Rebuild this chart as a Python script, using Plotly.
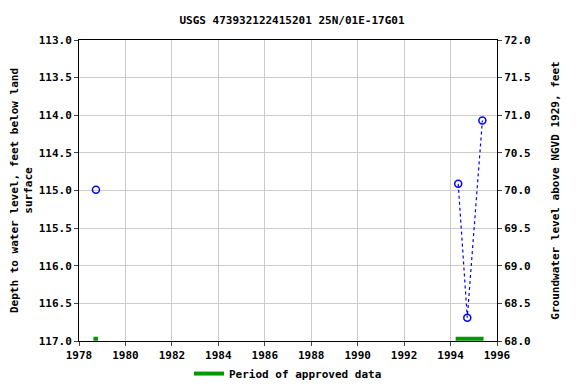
import plotly.graph_objects as go

title = "USGS 473932122415201 25N/01E-17G01"
# isolated measurement
iso_year = [1978.73]
iso_depth = [114.99]
# connected measurements
yrs = [1994.33, 1994.72, 1995.37]
depth = [114.91, 116.69, 114.07]
# approved periods
approved = [(1978.62, 1978.82), (1994.22, 1995.42)]
datum = 185.0

font = "DejaVu Sans Mono"
bf = dict(family=font, size=11, color="black", weight="bold")
mk = dict(symbol="circle-open", size=7, color="#0000ff", line=dict(width=1.5))
fig = go.Figure()
fig.add_trace(go.Scatter(x=yrs, y=depth, mode="lines+markers",
                         line=dict(color="#0000ff", dash="dot", width=1.2),
                         marker=mk, showlegend=False))
fig.add_trace(go.Scatter(x=iso_year, y=iso_depth, mode="markers", marker=mk, showlegend=False))
for i, (a, b) in enumerate(approved):
    fig.add_trace(go.Scatter(x=[a, b], y=[116.97, 116.97], mode="lines",
                             line=dict(color="#009900", width=4),
                             name="Period of approved data", showlegend=(i == 0)))
# invisible trace for right axis
fig.add_trace(go.Scatter(x=iso_year, y=[datum - iso_depth[0]], yaxis="y2", mode="markers",
                         marker=dict(opacity=0), showlegend=False, hoverinfo="skip"))

fig.update_layout(
    width=568, height=376,
    margin=dict(l=71, r=79, t=32, b=43, autoexpand=False),
    paper_bgcolor="white", plot_bgcolor="white",
    font=bf,
    title=dict(text=title, x=0.5, xanchor="center", y=0.968, yanchor="middle", font=bf),
    xaxis=dict(range=[1978, 1996], tick0=1978, dtick=2, showgrid=True, gridcolor="#cccccc",
               showline=True, linecolor="black", mirror=True, ticks="outside", ticklen=4,
               tickfont=bf, tickformat="d", zeroline=False, automargin=False),
    yaxis=dict(range=[117, 113], dtick=0.5, tickformat=".1f", showgrid=True, gridcolor="#cccccc",
               showline=True, linecolor="black", ticks="outside", ticklen=4, zeroline=False,
               tickfont=bf, automargin=False,
               title=dict(text="Depth to water level, feet below land<br>surface", font=bf, standoff=4)),
    yaxis2=dict(range=[68, 72], dtick=0.5, tickformat=".1f", overlaying="y", side="right",
                showgrid=False, showline=True, linecolor="black", ticks="outside", ticklen=4, zeroline=False,
                tickfont=bf, automargin=False,
                title=dict(text="Groundwater level above NGVD 1929, feet", font=bf, standoff=21)),
    legend=dict(orientation="h", x=0.5, xanchor="center", y=-0.06, yanchor="top", font=bf),
)
fig.write_html("out.html")
